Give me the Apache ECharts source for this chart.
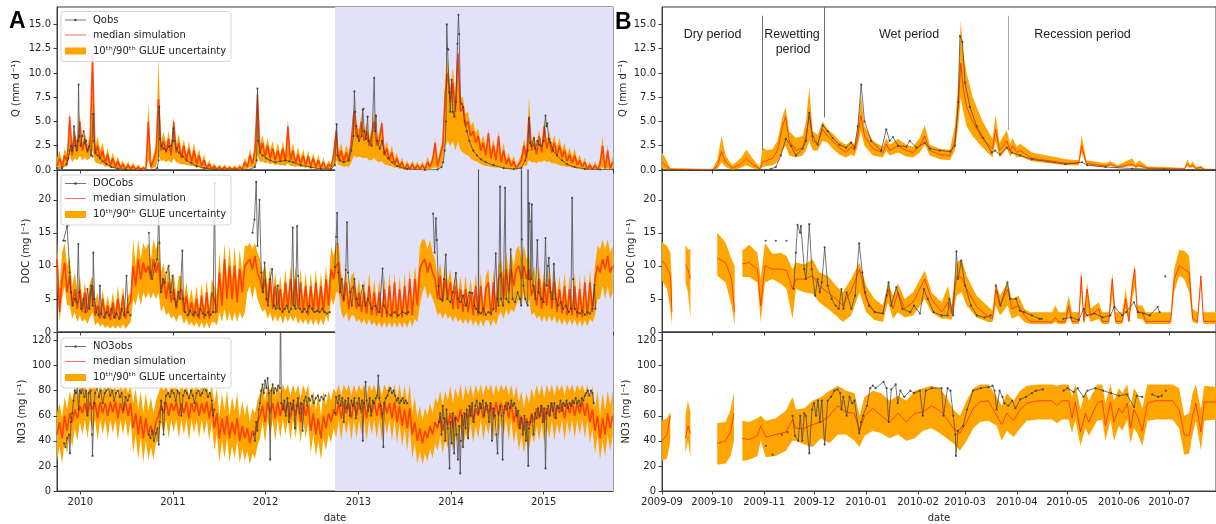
<!DOCTYPE html>
<html><head><meta charset="utf-8">
<script src="https://cdn.jsdelivr.net/npm/echarts@6/dist/echarts.min.js"></script>
<style>html,body{margin:0;padding:0;background:#fff}#c{width:1216px;height:524px}</style>
</head><body><div id="c"></div>
<script>
// ================= DATA =================
// Panel A: simulation sampled every A_STEP days from 2009-10-01
const A_STEP = 10;
const qA_med = [
0.4,1.2,0.3,1.5,0.8,5.5,1.5,3.5,2.0,5.0, 2.0,3.2,1.8,2.8,11.8,1.6,2.5,1.2,2.0,0.7,
1.6,0.4,1.2,0.3,0.9,0.2,0.6,0.1,0.5,0.1, 0.4,0.05,0.3,0.05,0.2,0.05,5.0,0.3,1.0,1.8,
7.3,2.0,3.0,1.8,3.2,1.5,5.0,1.8,2.8,1.2, 2.5,1.0,2.2,0.8,2.0,0.6,1.5,0.4,1.0,0.2,
0.6,0.1,0.4,0.05,0.3,0.05,0.3,0.05,0.2,0.05, 0.2,0.05,0.3,0.05,0.8,0.3,1.5,0.6,2.0,7.8,
1.8,2.8,1.4,2.5,1.2,2.2,1.0,2.0,1.0,2.2, 0.9,4.5,1.0,2.0,0.7,1.6,0.6,1.5,0.5,1.4,
0.4,1.2,0.3,1.0,0.2,0.8,0.1,0.6,0.3,1.5, 4.0,1.0,2.0,0.8,1.8,0.9,3.0,6.0,3.5,3.2,
5.0,3.0,4.0,2.5,3.5,5.0,2.5,3.0,4.8,1.5, 2.2,1.0,1.8,0.6,1.2,0.3,0.8,0.1,0.6,0.1,
0.6,0.1,0.5,0.1,0.5,0.1,0.8,0.3,1.0,2.8, 0.4,1.5,2.5,8.0,10.0,7.0,9.0,6.0,12.0,6.0,
6.5,4.5,5.0,3.5,4.0,2.8,3.5,2.0,2.8,1.5, 3.8,1.2,2.5,1.0,3.5,0.8,2.0,0.6,1.2,0.4,
0.9,0.2,0.6,1.0,2.5,1.2,5.5,2.0,2.8,1.6, 3.5,1.8,4.5,2.2,3.2,1.8,2.8,1.5,2.5,1.3,
2.0,0.9,1.6,0.7,1.5,0.5,1.0,0.3,0.8,0.1, 0.5,0.05,0.5,0.05,0.6,2.5,0.2,2.0,0.2,0.8];
const qA_hi = [
1.2,2.0,0.8,2.2,1.6,6.0,2.4,4.2,2.8,5.8, 2.8,4.0,2.6,3.5,12.5,2.5,3.5,2.0,2.8,1.3,
2.3,0.9,1.8,0.7,1.4,0.5,1.0,0.3,0.9,0.3, 0.8,0.2,0.6,0.2,0.4,0.2,7.0,0.6,1.6,2.5,
11.5,2.8,4.0,2.6,4.0,2.3,5.5,2.6,3.8,2.0, 3.2,1.6,3.0,1.4,2.8,1.2,2.2,0.8,1.6,0.4,
1.0,0.3,0.7,0.2,0.6,0.2,0.6,0.2,0.5,0.2, 0.5,0.2,0.6,0.2,1.3,0.6,2.2,1.0,2.8,8.3,
2.6,3.6,2.2,3.3,2.0,3.0,1.6,2.8,1.6,3.0, 1.5,5.3,1.6,2.8,1.2,2.4,1.1,2.2,0.9,2.0,
0.8,1.8,0.6,1.6,0.5,1.3,0.3,1.0,0.6,2.2, 4.6,1.8,2.8,1.5,2.6,1.6,3.6,6.8,4.5,4.2,
5.8,4.0,4.8,3.4,4.2,6.0,3.3,3.8,5.2,2.2, 3.0,1.6,2.5,1.1,1.8,0.6,1.3,0.3,1.0,0.3,
1.0,0.3,0.9,0.3,0.9,0.3,1.4,0.6,1.5,3.3, 0.8,2.2,3.2,9.5,11.5,8.5,10.5,7.5,13.0,7.5,
7.5,5.8,6.0,4.5,5.0,3.8,4.3,2.8,3.6,2.3, 4.2,2.0,3.2,1.7,4.0,1.4,2.8,1.1,1.8,0.8,
1.5,0.4,1.0,1.6,3.2,2.0,7.5,3.0,3.6,2.4, 4.2,2.6,5.2,3.0,4.0,2.6,3.6,2.3,3.3,2.0,
2.8,1.6,2.3,1.3,2.2,1.0,1.6,0.6,1.3,0.3, 0.9,0.2,0.9,0.2,1.2,3.5,0.4,2.6,0.4,1.5];
const qA_lo = [
0.1,0.3,0.1,0.4,0.3,1.5,0.8,1.2,1.0,1.5, 1.0,1.3,1.0,1.2,2.0,0.8,0.7,0.6,0.6,0.3,
0.4,0.2,0.3,0.1,0.2,0.05,0.1,0,0.05,0, 0.05,0,0.05,0,0,0,1.0,0.1,0.2,0.3,
1.5,0.9,1.0,0.8,1.0,0.7,1.2,0.8,0.7,0.6, 0.6,0.5,0.5,0.4,0.4,0.2,0.3,0.1,0.2,0.05,
0.1,0,0.05,0,0.05,0,0.05,0,0,0, 0,0,0,0,0.1,0.1,0.3,0.2,0.4,1.5,
0.8,0.9,0.7,0.8,0.6,0.7,0.5,0.6,0.5,0.5, 0.4,0.7,0.4,0.4,0.3,0.4,0.3,0.3,0.2,0.3,
0.1,0.2,0.1,0.1,0,0.1,0,0.1,0.1,0.3, 1.0,0.5,0.5,0.3,0.4,0.3,0.8,1.5,1.3,1.4,
1.3,1.2,1.3,1.0,1.0,1.3,0.9,0.8,0.9,0.6, 0.5,0.4,0.4,0.2,0.3,0.1,0.1,0,0.05,0,
0.05,0,0.05,0,0.05,0,0.1,0.05,0.2,0.3, 0.1,0.3,0.8,2.5,3.0,2.5,3.0,2.0,3.0,2.0,
1.8,1.6,1.5,1.2,1.0,0.9,0.8,0.6,0.5,0.4, 0.4,0.3,0.3,0.2,0.3,0.2,0.1,0.1,0.1,0.05,
0.1,0,0.1,0.2,0.5,0.4,1.0,0.8,0.8,0.7, 0.9,0.8,1.0,0.8,0.9,0.7,0.7,0.6,0.5,0.4,
0.4,0.3,0.3,0.2,0.3,0.1,0.2,0.05,0.1,0, 0.05,0,0.05,0,0.1,0.3,0,0.2,0,0.2];
// observed: [days since 2009-10-01, value], null = gap
const qA_obs = [[0,0.2],[20,0.2],[38,0.6],[45,1.2],[50,2.0],[55,2.5],[60,2.0],[67,4.5],[72,2.5],[78,2.0],[82,3.0],[85,8.8],[88,3.5],[93,2.5],[100,3.5],[105,4.0],[110,2.8],[115,3.0],[120,2.0],[128,2.5],[135,1.5],[140,1.4],[143,5.8],[146,3.0],[152,1.8],[160,1.5],[170,1.2],[180,0.9],[195,0.6],[215,0.3],[240,0.15],[270,0.05],[330,0.0],[380,0.0],[395,0.2],[400,1.0],[403,6.5],[406,3.2],[412,2.5],[420,2.2],[430,2.0],[440,2.4],[450,2.5],[455,3.0],[459,4.3],[462,3.0],[470,2.2],[480,1.8],[495,1.4],[510,1.0],[530,0.7],[550,0.4],[580,0.2],[620,0.05],[700,0.0],[760,0.05],[780,0.3],[787,1.0],[790,8.4],[793,3.0],[800,1.8],[810,1.5],[825,1.2],[840,1.0],[860,0.8],[880,0.9],[900,1.0],[915,0.9],[930,0.8],[960,0.5],[1000,0.3],[1040,0.1],[1080,0.1],[1095,0.5],[1102,4.7],[1105,1.5],[1115,1.0],[1130,0.8],[1150,1.0],[1160,2.0],[1168,3.5],[1172,8.1],[1175,6.0],[1180,4.5],[1185,3.5],[1190,3.0],[1200,3.5],[1205,6.2],[1208,6.3],[1211,4.0],[1218,3.2],[1224,5.5],[1228,3.0],[1240,2.5],[1250,9.5],[1254,4.0],[1257,5.6],[1262,3.0],[1272,2.2],[1281,3.0],[1290,1.8],[1305,1.2],[1320,0.8],[1340,0.4],[1380,0.1],[1450,0.0],[1500,0.05],[1515,0.3],[1522,0.8],[1528,2.0],[1533,5.0],[1536,15.0],[1539,12.5],[1542,12.4],[1546,8.0],[1550,6.0],[1555,9.3],[1560,6.0],[1566,5.5],[1572,7.0],[1578,13.0],[1582,16.0],[1585,14.0],[1590,7.0],[1595,6.8],[1600,6.5],[1606,5.0],[1615,4.0],[1625,3.0],[1640,2.0],[1655,1.5],[1670,1.1],[1690,0.8],[1720,0.5],[1760,0.2],[1800,0.1],[1830,0.2],[1845,1.0],[1855,2.0],[1860,5.3],[1864,2.8],[1870,2.5],[1880,3.3],[1885,2.2],[1893,3.0],[1900,2.6],[1910,2.5],[1918,3.0],[1925,5.6],[1929,4.5],[1932,4.8],[1938,3.2],[1945,2.8],[1955,2.0],[1970,1.5],[1990,1.0],[2010,0.6],[2040,0.3],[2080,0.1],[2140,0.05],[2191,0.05]];

const docA_med = [
11,3,8,10.5,6,8.5,4,6.5,3.5,6.5, 3,6,3,6,7,2.5,4,2,5,2,
4,1.8,4.5,2,5,2,5.5,2,4,4.5, 10,7,11,8,10.5,9,10,8,11,9,
10.5,6,8,5,7.5,4.5,6.5,3.5,6,6.5, 3,5.5,2.5,4.5,2.2,5,2,5.5,2,6,
2,6,5,3,9,4,11,5,10,5, 10,4.5,9.5,6,10,10.5,11,9.5,11.5,9,
8,6,8,4.5,8,3.5,7,3.5,6.5,3, 7.5,3.5,8,4,8,3.5,7.5,3,7,2.5,
7,3,7.5,3,7,3,8,4,9.5,8, 10,10.5,6,4.5,7.5,3.5,6.5,7,3.5,6,
3,6,2.8,7,2.5,6,2.5,6,2.2,6.5, 2.2,7,2.2,7.5,2.2,6.5,2.2,7,2.5,8,
2.5,8,4,9.5,10.5,11,9,10.5,9,8, 5,8.5,4.5,8,5,7.5,3.5,7,3.5,6.5,
3,6.5,3,6,2.5,7,2.5,7,2.5,6.5, 7.5,2.5,7.5,3,8,9,5,9.5,6,9.5,
7,9.5,10,8,10,8,9.5,5.5,7,4, 8,3.5,7.5,4,8,3.5,7.5,3,6.5,2.8,
7,2.5,6.5,2.5,7,2.2,6.5,2.2,7.5,2.5, 7.5,3,8,10,9,11,9.5,11.5,9,10];
const docA_hi = [
14,6.5,12,13.5,10,11.5,7,9,6,8.5, 5,7.5,5,7.5,8.5,4.5,6,3.5,6.5,3.5,
5.5,3.5,6,3.5,7,3.5,7,3.5,5.5,6, 14,10,14,11,13.5,12.5,13.5,11,14,12.5,
14,9,10.5,7.5,10,7,9,5.5,8.5,8.5, 5,7.5,4.5,6.5,4,7,3.5,7.5,3.5,8,
3.5,8,7,5.5,12,7,13.5,8,13,8, 13,7.5,12.5,9,13,13,13.5,12.5,13.5,12,
11,9,10,7,10,5.5,9,5.5,8.5,5, 9.5,5.5,10,6,10,5.5,9.5,5,9,4.5,
9,5,9.5,5,9,5,10,6.5,13,11.5, 13.5,13.5,9,7,9.5,5.5,8.5,9,5.5,8,
5,8,4.5,9,4.5,8,4,8,3.5,8.5, 3.5,9,3.5,9,3.5,8.5,3.5,9,4,9.5,
4.5,10,7,13,14,14,12.5,14,12,11, 8,10.5,7,10,7.5,9.5,6,9,5.5,8.5,
5,8.5,5,8,4.5,9,4,9,4,8.5, 9.5,4,9.5,5,10,11,8,12,9,12,
10,12.5,13,11,13,11,12,8.5,10,7, 10,6.5,9.5,6.5,10,6,9.5,5.5,8.5,4.5,
9,4.5,8.5,4,9,4,8.5,4,9,4, 9.5,5,10,13,12.5,14,12.5,14,12,13];
const docA_lo = [
8,1.5,5,7,4,4,2,3,1.5,2.5, 1.5,2,1.2,2.2,3,1,1.5,0.8,1.2,0.6,
1,0.5,1,0.5,1,0.5,1.2,0.5,1,1.5, 5,4,6,4,6,5,6,5,6,5,
6,3,4,2.5,3,2,2.5,1.5,2.5,2.5, 1.2,2,1,1.5,0.8,1.5,0.6,1.5,0.5,1.5,
0.5,1.5,1.5,1,3,1.5,3.5,1.5,3,1.5, 3,1.5,3,2,3,6,7,5,7,5,
4,3,3.5,2,3,1.5,2.5,1.5,2.5,1.2, 2.5,1.5,2.5,1.5,2.5,1.2,2,1.2,2,1,
2,1,2,1,2,1,2.5,1.5,5,4, 6,6,3,2,3,1.5,2.5,2.5,1.5,2,
1.2,2,1,2,1,1.5,0.8,1.5,0.6,1.5, 0.6,1.5,0.6,1.5,0.6,1.5,0.6,1.5,0.6,1.8,
0.8,2,1.5,4,6,7,5,6,5,4, 2.5,3,2,3,2,2.5,1.5,2.5,1.5,2,
1.2,2,1.2,2,1,1.8,0.8,1.8,0.8,1.8, 1.8,0.8,2,1,2.5,3,2,3.5,2.5,3.5,
3,4,5,4,6,4,5,2.5,3,2, 2.5,1.5,2.5,1.5,2.5,1.5,2.5,1.2,2,1,
2,1,2,1,2,0.8,1.8,0.8,1.8,0.8, 2,1.5,2.5,5,5,7,5,7,5,6];
const docA_obs = [[25,13.8],[32,13.8],[40,16],[45,16.2],[50,9],[55,6],[62,4],[70,5],[78,4.5],[84,13.3],[88,6],[95,3.5],[105,5],[112,3],[120,6.5],[128,3.5],[135,7],[140,4],[143,12],[148,5],[155,3],[165,2.5],[169,7],[175,2.8],[185,2.2],[195,3],[205,2.5],[215,3.5],[225,2.2],[235,2.8],[245,2],[255,3.5],[265,2.5],[274,8.5],[280,3],[290,2.5],null,
[362,15],[368,9],[375,8],[385,10],[395,11],[401,18],[404,13.5],[410,6],[418,8],[425,7.5],[431,9],[440,10],[448,6],[455,8.5],[462,5],[470,4],[478,6],[485,5],[494,12.3],[498,5],[505,3],[515,2.5],[525,3.2],[535,2.6],[545,3],[555,2.5],[565,3.5],[575,2.8],[585,2.5],[595,3],[605,2.6],[615,3],[621,22.5],[625,3],null,
[770,15],[778,17],[785,22.7],[790,13],[798,20],[805,9],[812,6],[818,10.5],[825,5],[832,4],[840,8],[848,9.5],[855,4],[862,3.5],[870,7],[878,3.5],[888,3],[898,3.5],[905,4],[915,3],[922,3.5],[929,15.8],[934,4],[940,3.5],[946,16],[950,8.5],[958,3.5],[966,3],[975,3.5],[985,3],[995,4],[1005,3.5],[1015,3],[1025,3.2],[1035,3],[1045,3.5],[1055,3],[1065,2.8],[1075,3],null,
[1095,9.8],[1100,14.4],[1104,18],[1108,9],[1115,6],[1122,8],[1130,5],[1138,9.4],[1143,16.6],[1147,9],[1155,6],[1162,4],[1172,8],[1180,5],[1190,4],[1205,7],[1215,4],[1225,5],[1240,3.5],[1255,4],[1270,3],[1283,9.6],[1288,4],[1300,3],[1315,2.5],[1330,3],[1345,2.5],[1360,3],[1375,2.8],[1385,3],null,
[1482,17.9],[1488,12],[1493,17.2],[1497,13.9],[1503,6.9],[1510,5],[1518,4.8],[1525,8],[1532,11.7],[1538,5],[1550,4.5],[1560,6],[1572,8.9],[1580,5],[1590,4.5],[1600,5.5],[1612,4],[1625,6],[1637,5.9],[1645,4],[1652,3.5],[1660,3],[1661,30],[1662,3],[1670,2.8],[1680,3.5],[1690,2.6],[1700,3],[1710,2.8],[1720,3.5],[1729,11.9],[1735,5],[1740,4],[1746,22],[1750,5],[1758,4],[1766,21.8],[1770,5],[1780,4.5],[1788,12.5],[1795,5],[1805,4.5],[1815,6],[1825,5],[1829,4],[1830,30],[1832,14],[1838,7],[1845,5],[1855,4],[1856,30],[1858,8],[1860,19.5],[1864,16.7],[1868,8],[1871,19.3],[1876,7],[1885,5],[1893,13.9],[1898,6],[1910,5],[1918,4.5],[1925,14.2],[1930,7],[1935,10],[1938,11.2],[1945,6],[1952,5],[1958,10.3],[1965,5],[1975,4],[1985,4.5],[1995,3.5],[2005,4],[2017,3],[2025,3.5],[2030,20.3],[2034,8],[2040,3.5],[2050,3],[2060,2.8],[2070,3.2],[2080,2.6],[2090,3],[2100,2.8],[2110,3.5],[2118,7.1],[2122,3.5]];

const no3A_med = [
45,55,42,60,48,62,55,65,58,68, 62,70,60,71,65,71,58,71,62,70,
60,71,63,71,58,70,62,71,60,70, 50,62,45,60,42,58,45,52,44,55,
60,68,62,71,60,70,64,71,60,70, 62,71,58,70,63,71,60,70,62,71,
58,70,50,62,42,58,45,60,42,55, 45,58,40,52,42,50,38,48,45,55,
60,68,55,71,62,70,58,71,60,70, 62,71,58,70,60,71,55,70,60,68,
48,62,45,58,42,60,50,62,55,65, 60,70,58,71,62,70,58,71,60,70,
62,71,58,70,62,71,60,70,58,71, 62,70,58,71,55,68,52,65,50,66,
45,55,40,50,38,48,42,52,45,55, 50,60,48,58,52,62,50,60,55,65,
52,62,58,68,55,66,60,70,58,68, 62,70,58,71,60,70,62,71,58,70,
55,65,50,60,48,58,52,62,55,66, 58,68,55,66,60,70,58,68,62,70,
58,70,62,71,60,70,62,71,60,70, 55,65,48,60,42,58,45,62,50,60];
const no3A_hi = [
62,70,58,75,65,80,72,84,75,85, 80,85,78,85,82,85,76,85,80,85,
78,85,80,85,76,85,80,85,78,85, 70,82,65,80,62,78,64,75,62,72,
78,85,80,85,78,85,82,85,78,85, 80,85,76,85,80,85,78,85,80,85,
76,85,70,82,60,78,64,80,60,75, 64,78,58,72,60,70,55,66,62,72,
78,85,72,85,80,85,76,85,78,85, 80,85,76,85,78,85,74,85,78,85,
66,80,64,78,60,80,68,80,72,82, 78,85,76,85,80,85,76,85,78,85,
80,85,76,85,80,85,78,85,76,85, 80,85,76,85,74,85,72,84,70,85,
62,75,58,68,56,66,60,70,62,74, 70,80,68,80,72,84,70,82,74,85,
72,84,76,85,74,85,78,85,76,85, 80,85,76,85,78,85,80,85,76,85,
74,84,70,80,66,78,70,82,74,85, 76,85,74,85,78,85,76,85,80,85,
76,85,80,85,78,85,80,85,78,85, 74,84,66,80,60,78,64,80,68,80];
const no3A_lo = [
24,35,22,40,30,45,35,50,40,55, 45,57,42,57,48,57,40,57,45,57,
42,57,46,57,40,57,45,57,42,57, 30,45,25,42,23,40,25,35,25,38,
40,55,45,57,42,57,47,57,42,57, 45,57,40,57,46,57,42,57,45,57,
40,55,32,45,23,40,26,42,23,36, 26,40,22,34,24,32,21,30,26,36,
42,55,38,57,45,57,40,57,42,57, 45,57,40,57,42,57,38,57,42,55,
30,45,28,40,25,42,32,45,38,50, 42,57,40,57,45,57,40,57,42,57,
45,57,40,57,45,57,42,57,40,57, 45,57,40,57,38,54,35,50,32,52,
26,38,22,32,21,30,24,34,26,38, 32,44,30,42,34,46,32,44,38,50,
34,46,40,54,38,52,42,57,40,54, 45,57,40,57,42,57,45,57,40,57,
38,50,32,44,30,42,34,46,38,52, 40,54,38,52,42,57,40,54,45,57,
40,57,45,57,42,57,45,57,42,57, 38,50,30,45,25,40,28,45,32,45];
const no3A_obs = [[28,38],[33,35],[40,42],[48,45],[51,30],[55,55],[60,62],[65,72],[70,80],[75,78],[80,82],[85,65],[90,80],[95,78],[100,82],[108,75],[115,80],[120,60],[125,78],[132,80],[138,45],[140,28],[146,70],[150,78],[158,82],[165,75],[172,80],[180,70],[188,78],[195,80],[202,82],[210,76],[218,80],[225,72],[232,78],[240,80],[248,75],[255,78],[262,65],[270,75],[278,72],[285,76],null,
[362,45],[368,42],[375,48],[382,40],[390,46],[396,50],[401,37],[405,55],[410,72],[415,65],[420,45],[425,70],[430,76],[438,78],[445,75],[452,80],[460,78],[468,72],[475,80],[482,78],[490,60],[497,76],[505,80],[512,78],[520,74],[528,80],[535,76],[542,70],[550,78],[558,80],[565,76],[572,78],[580,82],[588,80],[595,75],[602,78],[610,72],[615,60],[620,65],null,
[775,45],[780,40],[785,55],[790,48],[795,65],[800,70],[805,80],[810,85],[815,78],[820,88],[825,82],[830,90],[835,78],[840,25],[845,80],[850,85],[855,78],[860,82],[866,80],[872,84],[878,82],[881,150],[884,70],[890,65],[896,72],[902,60],[908,74],[914,55],[920,70],[926,65],[932,72],[938,50],[944,68],[950,74],[956,62],[962,70],[968,48],[974,72],[980,75],[986,68],[992,74],[998,72],[1005,76],[1012,70],[1020,74],[1028,76],[1035,72],[1042,75],[1050,73],[1058,76],null,
[1095,62],[1100,75],[1106,70],[1112,76],[1118,68],[1124,74],[1130,55],[1136,72],[1142,66],[1148,74],[1154,60],[1160,72],[1166,68],[1172,74],[1178,58],[1184,70],[1190,74],[1196,66],[1202,72],[1205,40],[1210,70],[1216,87],[1220,72],[1226,64],[1232,74],[1238,60],[1244,72],[1250,70],[1256,74],[1262,76],[1266,92],[1270,74],[1276,68],[1282,62],[1286,35],[1290,70],[1296,74],[1302,76],[1308,80],[1314,82],[1320,78],[1326,80],[1332,76],[1338,72],[1344,74],[1350,70],[1356,72],[1362,74],[1368,70],[1374,72],[1380,70],null,
[1505,55],[1510,62],[1515,45],[1520,68],[1525,58],[1530,40],[1535,65],[1540,50],[1547,18],[1550,55],[1555,38],[1560,62],[1565,30],[1570,58],[1575,45],[1580,25],[1585,52],[1589,14],[1592,40],[1596,60],[1600,35],[1605,62],[1610,50],[1615,65],[1620,42],[1625,68],[1630,60],[1636,70],[1642,55],[1648,68],[1654,72],[1660,62],[1666,70],[1672,66],[1678,72],[1684,60],[1690,70],[1696,68],[1702,55],[1708,70],[1714,40],[1720,66],[1726,60],[1731,45],[1736,30],[1740,62],[1746,68],[1752,60],[1756,25],[1760,62],[1766,68],[1772,65],[1778,70],[1784,66],[1790,72],[1796,68],[1802,70],[1808,66],[1812,60],[1818,64],[1824,50],[1830,58],[1836,45],[1842,60],[1848,40],[1852,55],[1857,20],[1860,50],[1866,55],[1872,60],[1878,45],[1884,62],[1890,58],[1896,66],[1902,60],[1908,68],[1914,55],[1920,66],[1925,18],[1930,62],[1936,68],[1942,60],[1948,70],[1954,64],[1960,70],[1966,58],[1972,68],[1978,66],[1984,72],[1990,64],[1996,70],[2002,68],[2008,72],[2014,66],[2020,70],[2026,68],[2032,72],[2038,70],[2044,74],[2050,70],[2056,72],[2062,68],[2068,74],[2074,72],[2080,76],[2086,78],[2092,80],[2098,76],[2104,80],[2110,78],[2115,70]];

// Panel B: [days since 2009-09-01, 10th pct, median, 90th pct]; null = gap
const qB_sim = [[0,0.2,0.8,1.8],[2,0.1,0.5,1.2],[5,0,0.05,0.2],[30,0,0,0.1],[33,0.1,0.4,1.0],[35.6,0.8,1.9,3.5],[38,0.3,0.8,1.5],[42,0,0.2,0.5],[47,0.2,0.6,1.2],[50.5,0.5,1.2,2.1],[54,0.2,0.6,1.2],[58.5,0,0.1,0.3],[60,0.3,0.8,2.3],[63,0.4,1.0,2.0],[66,0.5,1.2,2.2],[69,0.8,2.0,3.0],[72,2.0,4.5,5.5],[73.8,2.5,5.5,6.5],[76,1.5,3.0,4.0],[80,1.3,2.0,3.3],[84,1.5,2.3,3.5],[86,2.0,3.5,5.0],[88,3.0,5.7,8.5],[90,2.0,3.0,4.0],[93,2.0,2.7,3.6],[96,3.0,4.2,5.0],[99,2.8,3.5,4.2],[102,2.2,3.0,3.8],[106,1.6,2.3,3.0],[110,1.3,1.8,2.6],[113,1.6,2.4,3.0],[115,1.4,2.0,2.6],[117,2.5,3.5,4.5],[118.8,4.0,5.6,7.8],[121,2.5,3.5,4.5],[126,1.5,2.2,3.0],[132,1.3,1.8,2.4],[134,2.0,2.7,3.3],[136,1.5,2.0,2.6],[141,1.8,2.5,3.2],[146,1.4,2.0,2.6],[150,1.3,1.8,2.4],[154,1.8,2.5,3.3],[157,2.6,3.5,4.6],[160,1.5,2.0,2.6],[166,1.1,1.6,2.2],[172,1.0,1.5,2.1],[175,2.0,3.0,4.5],[177,4.5,6.5,9.0],[178.5,7.5,11.0,15.4],[180,6.0,8.5,12.0],[182,4.5,6.5,10.0],[185.6,3.5,5.0,7.5],[191.6,2.3,3.2,5.0],[197.5,1.3,2.2,3.2],[199.3,3.0,4.2,5.7],[201.7,1.3,2.0,2.8],[206,2.2,3.0,4.1],[208,1.4,2.0,2.7],[209.5,1.8,2.5,3.3],[212,1.3,1.8,2.4],[214,1.4,2.0,2.7],[221,0.9,1.2,1.8],[241.5,0.5,0.7,1.1],[249,0.5,0.7,1.0],[250.7,1.8,2.5,3.6],[253.5,0.5,0.7,1.0],[265,0.25,0.4,0.7],[268,0.4,0.6,0.9],[272,0.2,0.3,0.5],[281,0.4,0.6,1.2],[283,0.2,0.35,0.6],[285,0.3,0.5,1.0],[290,0.1,0.2,0.35],[301,0.08,0.15,0.3],[312,0.05,0.1,0.2],[314,0.4,0.6,1.1],[315.5,0.2,0.3,0.5],[317,0.3,0.5,0.9],[319,0.05,0.15,0.3],[322,0.1,0.3,0.4],[324,0.02,0.05,0.15],[331,0.02,0.05,0.1]];
const qB_obs = [[0,0],[30,0],[58,0],[62,0.02],[65,0.1],[68,0.3],[71,1.5],[74,3.2],[77,2.5],[80,1.5],[84,2.2],[86,3.0],[88,5.9],[90,3.5],[93,2.6],[96,4.6],[99,4.0],[102,3.3],[106,2.6],[110,2.3],[113,2.8],[115,2.3],[117,4.5],[119,8.8],[121,5.0],[125,3.0],[131,2.0],[134,4.2],[136,3.0],[138,3.4],[141,2.5],[146,2.4],[148,3.0],[152,2.3],[157,2.8],[160,2.2],[166,2.0],[172,1.9],[175,2.5],[177,7.0],[178,13.8],[179.5,13.2],[181,9.0],[184,6.5],[188,4.5],[192,3.3],[197,1.8],[199,2.0],[202,1.6],[206,2.3],[209,1.8],[214,1.5],[221,1.1],[241,0.6],[251,0.8],[254,0.5],[265,0.3],[281,0.15],[300,0.05],[331,0.02]];
// period boundaries (days since 2009-09-01) and their vertical extent in Q units
const periodLines = [[59.9,15.9,2.06],[96.9,16.8,5.4],[206.7,15.9,4.1]];

const docB_sim = [[0,7.8,10.8,13.6],[3,6.5,9.8,13],[5,3.5,8.5,12],[6,1,3,7],null,
[14,7.5,10.2,13.2],[15.5,6,9.5,12.5],[17,2,8,12.5],null,
[33,8.5,11.2,15],[38,7.5,10.5,13.5],[41.6,4,8,11],[43.4,1,3,10],null,
[48,8.3,10.3,12.3],[52,8.3,10.5,13.2],[57,7.5,9.5,12],[59,1.5,4,8],[61.5,7.5,10,13.5],[66,8,9.5,11.8],[71,7.3,9.5,12],[74.4,6.5,9.3,11.5],[78,2,6.5,9.5],[80,6.5,8,10.5],[85,6,8,10.2],[90,5.8,8.5,11],[94,4.5,7,9],[99,3.5,6,8.5],[104,2.5,5,7],[108,1.5,4,6],[113,2.5,6.2,8],[118,6,9.5,10.5],[122,3,5,7],[127,1.8,3,5],[132,1.5,2.8,4],[135,4.5,6.5,7.5],[138,2,3.5,5.5],[141,3,6,7.3],[145,2.2,3.5,5],[150,2.5,4.5,6],[157,5,8,9.3],[161,3,5,6],[167,2,3,4.5],[171,2,4.5,7],[173,1.8,2.8,4],[176,5.5,8.5,10.5],[179,6,8.2,11],[182,4,6.5,8.5],[188,2.2,3.8,5.5],[195,1.5,2.3,3.8],[197.5,1.5,2,3.2],[199.4,4,6.3,7.5],[202,2.5,4,5.5],[206.5,4,6.5,7.5],[209,2,3.5,5],[213,2.5,4,5.5],[216.5,1.5,2.5,3.5],[220,1.2,1.6,3],[233,1.2,1.5,3],[235,1.5,2.2,4],[237,1.2,1.5,3],[241,1.2,1.6,3],[243,2.5,4,5.5],[245,1.2,1.6,3],[249,1.2,1.6,3],[250.5,6,8.5,9.3],[252,1.2,1.6,3],[254,3,6.5,7.5],[256,1.5,2.5,3.5],[261,2,3.5,4.5],[263,1.2,1.6,3],[267,1.2,1.6,3],[269,5.5,8,9],[271,1.2,1.6,3],[275,1.2,1.6,3],[277,3.5,5,6.5],[279,1.2,1.6,3],[281,5,7,8],[282.5,7,9.5,10.2],[284,2,3,4],[287,2,3,4],[289,1.2,1.6,3],[300,1.2,1.6,3],[304,1.2,1.6,3],[306,6,8,9.5],[309,8.5,10,12.4],[312,8,9.5,12.3],[315,6,9,11.5],[317,1.5,2,3.5],[320,1.2,1.6,3],[322,7,8.5,9],[323.5,1.2,1.6,3],[331,1.2,1.6,3]];
const docB_obs = [[62,13.8],null,[68,13.8],null,[74.4,13.8],null,
[78.7,6.5],[80,12],[81,16.2],[82.5,15],[83,16],[85,9.5],[86,8],[88,16.3],[89.5,9.5],[91.5,5.5],[93,8],[94.3,6],[95.5,7.5],[97.2,12.8],[99,7],[101.4,5],[103.7,4],[105.6,3.5],[107.2,6.5],[108.4,3.5],[110.3,6],[113.1,3.5],[115.4,5.5],[117.8,13.4],[119.7,9],[121.3,6],[123.6,4],[127.2,3],[131.9,2.8],[134.2,5.5],[135.4,7.5],[137,4],[140,6.8],[143.6,3.5],[148.3,3],[150.6,4],[154.1,2.8],[156.5,6.5],[158.8,5],[162.3,3],[167.1,2.5],[170.6,2.5],[171.7,5],[174,2.5],[175.9,12.2],[176.9,8],[178.8,10.8],[181.1,7],[184.6,4],[188.1,2.5],[192.8,2.2],[196.4,2.5],null,
[199.4,7],[202.2,4],[206.4,7.5],[208,5],[211.6,5],[213.9,3.2],[216.3,3],[221,2.5],[225.6,2],[226.8,2],null,
[239.8,2],[244.4,2.2],[249.1,1.8],[251.9,3.5],[253.9,2.5],[258.5,2.8],[263.2,2.2],[267.9,2.5],[270.3,3.8],[274.9,2.5],[277.3,3],[282,4.5],[284.4,3],[287.9,2.8],[291.4,2.5],[296.1,3.8],[297.3,3],null,[300.7,8.4]];

const no3B_sim = [[0,24,40,56],[3,26,45,58],[5,40,60,63],null,
[14,30,42,60],[15.5,40,52,72],[17,27,46,63],null,
[33,21,38,54],[38,22,40,55],[41,28,47,65],[43,40,62,79],null,
[48,24,42,56],[52,25,41,55],[57,28,44,58],[59,40,52,60],[62,27,43,56],[68,28,45,58],[74,32,47,64],[78,40,57,75],[80,40,50,65],[85,37,50,66],[90,35,53,72],[95,42,55,75],[100,38,60,80],[105,45,68,84],[110,45,63,80],[115,40,62,78],[118,35,48,60],[121,44,60,75],[126,48,66,80],[131,46,60,78],[136,42,55,72],[141,45,62,76],[146,40,55,72],[151,42,62,80],[156,48,63,82],[161,50,68,84],[166,46,64,82],[170,42,58,75],[174,38,50,65],[178,32,46,60],[182,40,55,72],[186,50,66,82],[190,55,71,85],[195,56,72,85],[200,52,60,75],[203,40,53,68],[206,48,62,78],[210,43,56,72],[214,50,65,80],[218,56,70,84],[225,57,72,85],[233,57,72,85],[236,54,68,84],[239,57,72,85],[243,57,72,85],[245,46,58,75],[247,57,71,85],[250,36,47,65],[253,50,62,80],[255,44,55,72],[260,56,70,85],[263,57,72,85],[265,40,52,70],[268,57,71,85],[270,40,55,72],[273,52,66,82],[275,48,62,78],[278,57,70,85],[280,38,50,68],[282,50,65,82],[284,46,60,78],[287,36,48,66],[290,56,70,85],[295,57,72,85],[305,57,72,85],[309,50,65,82],[312,29,45,60],[315,30,44,62],[317,45,60,78],[319,56,70,85],[322,32,47,65],[324,56,71,84],[331,57,71,83]];
const no3B_obs = [[62,36],null,[66,29],null,[71.6,45],null,[75,47],null,
[78,60],[79.5,44],[81.4,40],[82.6,60],[83.8,40],[85,62],[86,60],[88,30],[89.6,65],[90.8,70],[92,60],[93.2,72],[94.3,55],[95.5,72],[97.2,37],[99,72],[100.9,75],[103,80],[104.9,81],[106.5,78],[107.2,65],[108.4,75],[110.3,60],[112,75],[113.6,70],[115,72],[117.8,46],[119,55],[120.1,60],[122.5,68],[124.4,82],[126,84],[127.6,82],[132.3,87],[134.2,82],[135.4,55],[137,81],[139.6,85],[140.8,70],[142.4,80],[144.8,75],[148.3,80],[150.6,78],[154.1,80],[155.8,60],[157.6,80],[161.1,82],[167,82],[168.2,60],[170.6,82],[172.4,80],[174,60],[175.3,45],[175.6,28],[176.9,48],[179.9,52],[182.3,65],[185.8,80],[190.5,82],[195.2,83],[197.5,84],[198.7,80],[199.9,65],[201.7,80],[203.4,75],[204.6,70],[206.9,68],[209.3,72],[211.2,66],[214,73],[217.5,75],[221,78],[223.4,80],[227.6,81],null,
[240,80],[242.3,82],[245.9,79],[248.3,82],[251.8,75],[254.2,80],[258.9,82],[263.6,80],[268.3,78],[273,76],[277.7,77],[282,67],[283.6,76],[287,75],null,
[292.9,77],[296.5,75],[298.7,76],null,[301,80]];

// ================= BUILD =================
const DAY = 86400000;
const A0 = new Date(2009, 9, 1).getTime();
const A_END = new Date(2015, 9, 1).getTime();
const B0 = new Date(2009, 8, 1).getTime();
const B_END = B0 + 331 * DAY;
const SHADE_START = new Date(2012, 9, 1).getTime();

function simA(lo, med, hi) {
  const seg = [], m = [];
  for (let i = 0; i < med.length; i++) {
    const t = A0 + i * A_STEP * DAY;
    seg.push([t, lo[i], hi[i]]); m.push([t, med[i]]);
  }
  return { segs: [seg], med: m };
}
function simB(rows) {
  const segs = []; let cur = []; const m = [];
  for (const r of rows) {
    if (r === null) { if (cur.length) segs.push(cur); cur = []; if (m.length) m.push([m[m.length - 1][0] + 1, null]); continue; }
    const t = B0 + r[0] * DAY; cur.push([t, r[1], r[3]]); m.push([t, r[2]]);
  }
  if (cur.length) segs.push(cur);
  return { segs, med: m };
}
function obsData(list, base) {
  const out = [];
  for (const p of list) {
    if (p === null) { if (out.length) out.push([out[out.length - 1][0] + 1, null]); }
    else out.push([base + p[0] * DAY, p[1]]);
  }
  return out;
}

const ORANGE = '#ffa500';
const MED = 'rgba(255,0,0,0.6)';
const OBS_LINE = 'rgba(70,70,70,0.75)';
const FONT = 'DejaVu Sans';

function bandSeries(gi, segs) {
  return {
    type: 'custom', xAxisIndex: gi, yAxisIndex: gi, z: 2, silent: true, clip: true,
    data: segs.map(s => [s[0][0], s[0][1]]),
    renderItem: (params, api) => {
      const s = segs[params.dataIndex];
      const pts = [];
      for (const p of s) pts.push(api.coord([p[0], p[2]]));
      for (let j = s.length - 1; j >= 0; j--) pts.push(api.coord([s[j][0], s[j][1]]));
      return { type: 'polygon', shape: { points: pts }, style: { fill: ORANGE } };
    }
  };
}
function shadeSeries(gi, ymax) {
  return {
    type: 'custom', xAxisIndex: gi, yAxisIndex: gi, z: 1, silent: true,
    data: [[SHADE_START, 0]],
    renderItem: (params, api) => {
      const p1 = api.coord([SHADE_START, ymax]);
      const p2 = api.coord([A_END, 0]);
      return { type: 'rect', shape: { x: p1[0], y: p1[1], width: p2[0] - p1[0], height: p2[1] - p1[1] }, style: { fill: '#e1e1f9' } };
    }
  };
}
function medSeries(gi, data, w, color) {
  return { type: 'line', xAxisIndex: gi, yAxisIndex: gi, z: 3, data, showSymbol: false, connectNulls: false,
    lineStyle: { color: color || MED, width: w }, silent: true };
}
function obsSeries(gi, data, extra) {
  return Object.assign({ type: 'line', xAxisIndex: gi, yAxisIndex: gi, z: 4, data, connectNulls: false,
    symbol: 'circle', symbolSize: 2.2, showSymbol: true, itemStyle: { color: 'rgba(60,60,60,0.85)' },
    lineStyle: { color: OBS_LINE, width: 1 }, silent: true }, extra || {});
}

const sQA = simA(qA_lo, qA_med, qA_hi), sDA = simA(docA_lo, docA_med, docA_hi), sNA = simA(no3A_lo, no3A_med, no3A_hi);
const sQB = simB(qB_sim), sDB = simB(docB_sim), sNB = simB(no3B_sim);

const Y = [
  { max: 16.8, interval: 2.5, fmt: v => v.toFixed(1), name: 'Q (mm d\u207B\u00B9)' },
  { max: 24.5, interval: 5, fmt: v => String(v), name: 'DOC (mg l\u207B\u00B9)' },
  { max: 126.8, interval: 20, fmt: v => String(v), name: 'NO3 (mg l\u207B\u00B9)' }
];
const rowsTop = [7, 170, 332], rowsH = [163, 162, 163];
const nameGapsA = [36, 26, 30], nameGapsB = [34, 26, 31];

const grids = [], xAxes = [], yAxes = [];
const axisColor = '#3c3c3c';
for (let col = 0; col < 2; col++) {
  for (let r = 0; r < 3; r++) {
    const gi = col * 3 + r;
    grids.push(col === 0
      ? { left: 57, width: 556, top: rowsTop[r], height: rowsH[r], show: true, borderColor: axisColor, borderWidth: 1 }
      : { left: 662, right: 0, top: rowsTop[r], height: rowsH[r], show: true, borderColor: axisColor, borderWidth: 1 });
    const isBottom = r === 2;
    xAxes.push({
      type: 'time', gridIndex: gi,
      min: col === 0 ? A0 : B0, max: col === 0 ? A_END : B_END,
      splitNumber: col === 0 ? 6 : 11,
      minInterval: col === 0 ? 365 * DAY : 28 * DAY,
      maxInterval: col === 0 ? 366 * DAY : 31 * DAY,
      axisLine: { show: true, lineStyle: { color: axisColor, width: 1 } },
      axisTick: { show: true, length: 3.5, lineStyle: { color: axisColor } },
      axisLabel: { show: isBottom, fontFamily: FONT, fontSize: 10, color: '#262626', margin: 6, hideOverlap: false,
        formatter: col === 0 ? '{yyyy}' : '{yyyy}-{MM}', showMinLabel: col === 1, showMaxLabel: false },
      splitLine: { show: false },
      name: isBottom ? 'date' : '', nameLocation: 'middle', nameGap: 22,
      nameTextStyle: { fontFamily: FONT, fontSize: 10, color: '#262626' }
    });
    yAxes.push({
      type: 'value', gridIndex: gi, min: 0, max: Y[r].max, interval: Y[r].interval,
      axisLine: { show: true, lineStyle: { color: axisColor, width: 1 } },
      axisTick: { show: true, length: 3.5, lineStyle: { color: axisColor } },
      axisLabel: { fontFamily: FONT, fontSize: 10, color: '#262626', margin: 6, formatter: Y[r].fmt, showMaxLabel: false },
      splitLine: { show: false },
      name: Y[r].name, nameLocation: 'middle', nameRotate: 90,
      nameGap: col === 0 ? nameGapsA[r] : nameGapsB[r],
      nameTextStyle: { fontFamily: FONT, fontSize: 10, color: '#262626' }
    });
  }
}

const MED_A = 'rgba(255,20,0,0.7)';
const series = [
  shadeSeries(0, Y[0].max), shadeSeries(1, Y[1].max), shadeSeries(2, Y[2].max),
  bandSeries(0, sQA.segs), medSeries(0, sQA.med, 1.6, MED_A), obsSeries(0, obsData(qA_obs, A0)),
  bandSeries(1, sDA.segs), medSeries(1, sDA.med, 1.6, MED_A), obsSeries(1, obsData(docA_obs, A0)),
  bandSeries(2, sNA.segs), medSeries(2, sNA.med, 1.6, MED_A), obsSeries(2, obsData(no3A_obs, A0)),
  bandSeries(3, sQB.segs), medSeries(3, sQB.med, 1), obsSeries(3, obsData(qB_obs, B0), {
    markLine: { symbol: 'none', silent: true, animation: false, label: { show: false },
      data: periodLines.map((p, k) => [
        { coord: [B0 + p[0] * DAY, p[1]], lineStyle: { color: k === 2 ? '#a8a8a8' : '#707070', width: 1, type: 'solid' } },
        { coord: [B0 + p[0] * DAY, p[2]] }]) }
  }),
  bandSeries(4, sDB.segs), medSeries(4, sDB.med, 1), obsSeries(4, obsData(docB_obs, B0)),
  bandSeries(5, sNB.segs), medSeries(5, sNB.med, 1), obsSeries(5, obsData(no3B_obs, B0))
];

function legend(top, obsName) {
  const tf = '10px "DejaVu Sans"';
  const txt = (y, t) => ({ type: 'text', x: 93, y, z: 101, style: { text: t, font: tf, fill: '#222', verticalAlign: 'middle', textVerticalAlign: 'middle' } });
  return [
    { type: 'rect', z: 100, shape: { x: 61, y: top, width: 170, height: 50, r: 3 }, style: { fill: 'rgba(255,255,255,0.8)', stroke: '#d4d4d4', lineWidth: 1 } },
    { type: 'line', z: 101, shape: { x1: 65, y1: top + 8.5, x2: 86, y2: top + 8.5 }, style: { stroke: OBS_LINE, lineWidth: 1 } },
    { type: 'circle', z: 101, shape: { cx: 75.5, cy: top + 8.5, r: 1.2 }, style: { fill: '#444' } },
    txt(top + 8.5, obsName),
    { type: 'line', z: 101, shape: { x1: 65, y1: top + 23.5, x2: 86, y2: top + 23.5 }, style: { stroke: MED, lineWidth: 1 } },
    txt(top + 23.5, 'median simulation'),
    { type: 'rect', z: 101, shape: { x: 65, y: top + 36, width: 21, height: 7 }, style: { fill: ORANGE } },
    txt(top + 39.5, '10\u1D57\u02B0/90\u1D57\u02B0 GLUE uncertainty')
  ];
}
function ptext(x, y, t) {
  return { type: 'text', x, y, z: 101, style: { text: t, font: '12.5px "Liberation Sans"', fill: '#222', align: 'center', textAlign: 'center', verticalAlign: 'middle', textVerticalAlign: 'middle' } };
}
const graphics = [].concat(
  legend(11.5, 'Qobs'), legend(175, 'DOCobs'), legend(338, 'NO3obs'),
  [
    { type: 'text', x: 9, y: 10, z: 101, style: { text: 'A', font: 'bold 23px "Liberation Sans"', fill: '#000' } },
    { type: 'text', x: 615, y: 11, z: 101, style: { text: 'B', font: 'bold 23px "Liberation Sans"', fill: '#000' } },
    ptext(712.5, 35, 'Dry period'),
    ptext(792, 35, 'Rewetting'),
    ptext(793, 49.5, 'period'),
    ptext(909, 35, 'Wet period'),
    ptext(1082.5, 35, 'Recession period')
  ]
);

const chart = echarts.init(document.getElementById('c'), null, { renderer: 'canvas' });
chart.setOption({
  animation: false,
  backgroundColor: '#fff',
  grid: grids, xAxis: xAxes, yAxis: yAxes, series,
  graphic: graphics
});
</script>
</body></html>
